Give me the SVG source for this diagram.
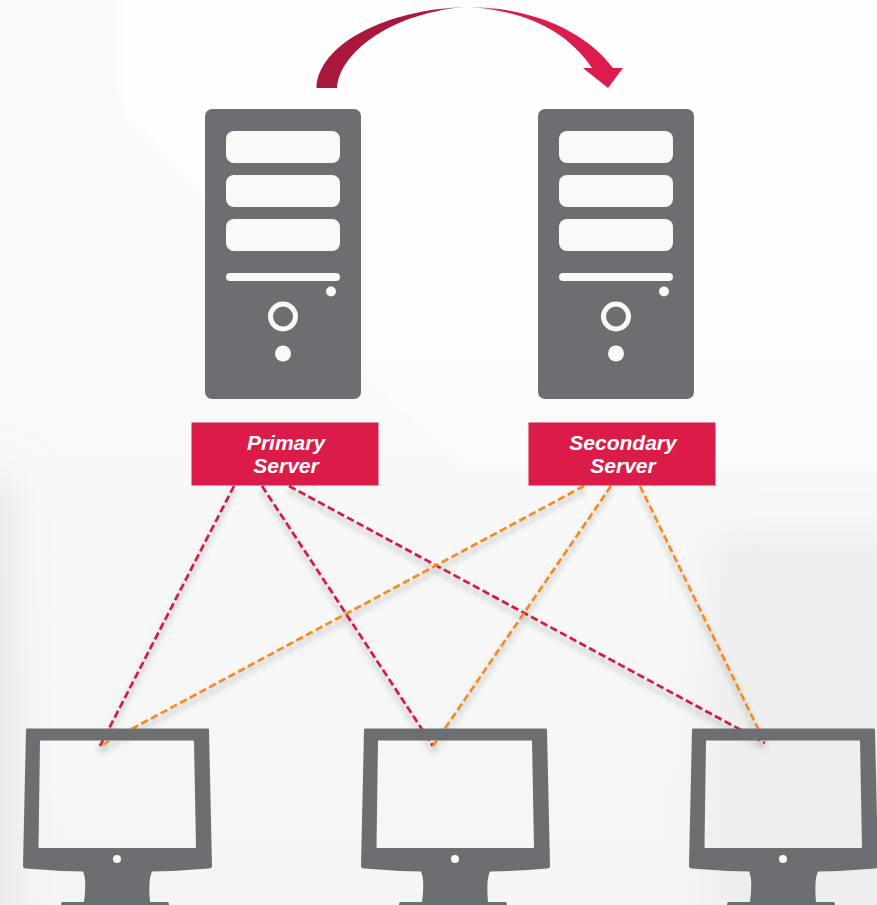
<svg xmlns="http://www.w3.org/2000/svg" width="877" height="905" viewBox="0 0 877 905">
<style>
.body{fill:#6d6e71}
.light{fill:#f9f9f9}
.lbl{fill:#db1c48}
.t{font-family:"Liberation Sans",Arial,sans-serif;font-weight:700;font-style:italic;font-size:21px;fill:#fff;text-anchor:middle}
.c{fill:none;stroke-width:2.7;stroke-dasharray:7.500 3.500}
.p{stroke:#d21a47}
.s{stroke:#f58a20}
</style>
<defs>
<linearGradient id="bg" x1="0" y1="0" x2="0" y2="1">
<stop offset="0" stop-color="#fafafa"/><stop offset="0.5" stop-color="#f9f9f9"/><stop offset="1" stop-color="#f5f5f6"/>
</linearGradient>
<linearGradient id="wash" x1="0" y1="0" x2="0" y2="1">
<stop offset="0" stop-color="#fefefe"/><stop offset="0.75" stop-color="#fdfdfd"/><stop offset="1" stop-color="#fafafa"/>
</linearGradient>
<linearGradient id="arc" gradientUnits="userSpaceOnUse" x1="316" y1="0" x2="623" y2="0">
<stop offset="0" stop-color="#a9173a"/><stop offset="0.4" stop-color="#ad183b"/><stop offset="0.49" stop-color="#f4c6d2"/><stop offset="0.6" stop-color="#dc1c4a"/><stop offset="1" stop-color="#dc1c4a"/>
</linearGradient>
<filter id="sh" x="-5%" y="-5%" width="110%" height="110%"><feGaussianBlur in="SourceAlpha" stdDeviation="3"/><feOffset dx="0" dy="5"/><feComponentTransfer><feFuncA type="linear" slope="0.35"/></feComponentTransfer><feMerge><feMergeNode/><feMergeNode in="SourceGraphic"/></feMerge></filter>
<filter id="b1" filterUnits="userSpaceOnUse" x="-100" y="-100" width="1100" height="1100"><feGaussianBlur stdDeviation="3"/></filter>
<filter id="b2" filterUnits="userSpaceOnUse" x="-200" y="200" width="1300" height="900"><feGaussianBlur stdDeviation="22"/></filter>
<g id="server">
<rect class="body" x="205" y="109" width="156" height="290" rx="7"/>
<rect class="light" x="226" y="131" width="114" height="32" rx="8"/>
<rect class="light" x="226" y="175" width="114" height="32" rx="8"/>
<rect class="light" x="226" y="219" width="114" height="32" rx="8"/>
<rect class="light" x="226" y="273" width="114" height="8" rx="4"/>
<circle class="light" cx="331" cy="291.5" r="5"/>
<circle cx="283" cy="316.5" r="12.5" fill="none" stroke="#f9f9f9" stroke-width="5"/>
<circle class="light" cx="283" cy="353.5" r="8"/>
</g>
<g id="monitor">
<path class="body" fill-rule="evenodd" d="M27 728.5H208Q209 728.5 209 730L212 866Q212 868 209 868.5Q180 871 152 871.5Q148 880 150 902H168Q169 903 169 905H61Q61 903 62 902H84Q87 880 83 871.5Q55 871 26 868.5Q23 868 23 866L26 730Q26 728.5 27 728.5ZM40.5 740.5Q40 740.5 40 741.5L38.5 847Q38.5 848 40 848H195Q196 848 196 847L194 741.5Q194 740.5 193 740.5Z"/>
<circle class="light" cx="117" cy="859" r="4"/>
</g>
</defs>
<rect id="background" width="877" height="905" fill="url(#bg)"/>
<path d="M120 -10H890V470H470L390 400L122 108Z" fill="url(#wash)" filter="url(#b1)"/>
<rect x="-60" y="480" width="72" height="520" fill="#e6e6e7" filter="url(#b2)"/>
<rect x="705" y="530" width="220" height="440" fill="#eeeeef" filter="url(#b2)"/>
<g id="failover-arrow">
<path fill="url(#arc)" d="M316.500 88C318 45 385 9 467 7C530 7 585 30 613 68H623L608 88L583 68H592C565 28 520 10 467 7C395 12 340 50 337 88Z"/>
</g>
<g id="connectors" filter="url(#sh)">
<path class="c p" d="M234 486L100 746"/>
<path class="c p" d="M262 486L433 746"/>
<path class="c p" d="M289 486L765 743"/>
<path class="c s" d="M584 486L100 746"/>
<path class="c s" d="M611 486L433 746"/>
<path class="c s" d="M640 486L765 743"/>
</g>
<g id="primary-server">
<use href="#server"/>
<rect class="lbl" x="191.500" y="422.500" width="187" height="63"/>
<text class="t" x="286" y="450">Primary</text>
<text class="t" x="286" y="473">Server</text>
</g>
<g id="secondary-server">
<use href="#server" x="333"/>
<rect class="lbl" x="528.500" y="422.500" width="187" height="63"/>
<text class="t" x="623" y="450">Secondary</text>
<text class="t" x="623" y="473">Server</text>
</g>
<g id="client-1"><use href="#monitor"/></g>
<g id="client-2"><use href="#monitor" x="338"/></g>
<g id="client-3"><use href="#monitor" x="666"/></g>
</svg>
